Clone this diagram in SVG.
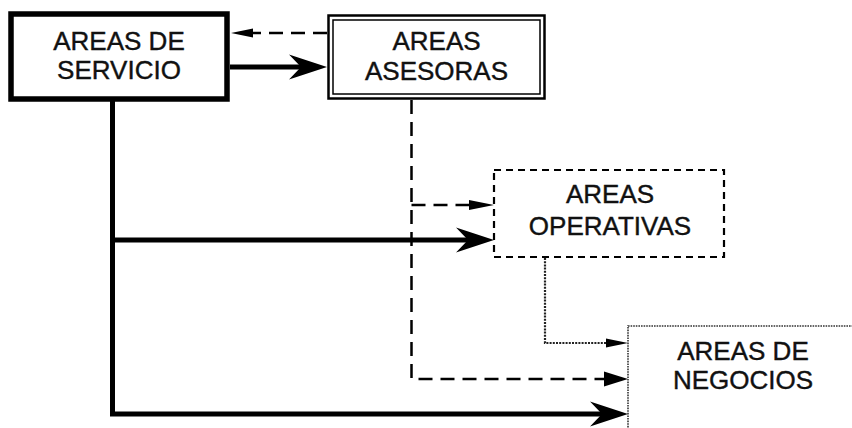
<svg xmlns="http://www.w3.org/2000/svg" width="852" height="428" viewBox="0 0 852 428">
  <style>
    .label { font-family: "Liberation Sans", Arial, sans-serif; font-size: 26px; fill: #111; stroke: #111; stroke-width: 0.4; text-anchor: middle; }
    .solid { fill: none; stroke: #000; stroke-width: 5; }
    .dash { fill: none; stroke: #000; stroke-width: 2.5; stroke-dasharray: 14 8; }
    .dot { fill: none; stroke: #222; stroke-width: 2.2; stroke-dasharray: 2 1.2; }
  </style>
  <defs>
    <marker id="stealth" markerUnits="userSpaceOnUse" markerWidth="38" markerHeight="25" refX="16" refY="12.5" orient="auto" overflow="visible">
      <path d="M0,0 L38,12.5 L0,25 L12,12.5 Z" fill="#000"/>
    </marker>
    <marker id="triLg" markerUnits="userSpaceOnUse" markerWidth="24" markerHeight="15" refX="6" refY="7.5" orient="auto" overflow="visible">
      <path d="M0,0 L24,7.5 L0,15 Z" fill="#000"/>
    </marker>
    <marker id="triMd" markerUnits="userSpaceOnUse" markerWidth="25" markerHeight="10" refX="5" refY="5" orient="auto" overflow="visible">
      <path d="M0,0 L25,5 L0,10 Z" fill="#000"/>
    </marker>
    <marker id="triSm" markerUnits="userSpaceOnUse" markerWidth="22" markerHeight="9" refX="4" refY="4.5" orient="auto" overflow="visible">
      <path d="M0,0 L22,4.5 L0,9 Z" fill="#000"/>
    </marker>
  </defs>

  <rect width="852" height="428" fill="#fff"/>

  <!-- connectors -->
  <g id="connectors">
    <!-- asesoras back to servicio -->
    <path class="dash" d="M327,33 H249" marker-end="url(#triSm)"/>
    <!-- servicio to asesoras -->
    <path class="solid" d="M230,67 H305" marker-end="url(#stealth)"/>
    <!-- servicio trunk to negocios -->
    <path class="solid" d="M112.5,101 V414 H606" marker-end="url(#stealth)"/>
    <!-- servicio to operativas -->
    <path class="solid" d="M112.5,240 H472" marker-end="url(#stealth)"/>
    <!-- asesoras trunk to negocios -->
    <path class="dash" d="M411.5,100 V379 H610" marker-end="url(#triLg)"/>
    <!-- asesoras to operativas -->
    <path class="dash" d="M411.5,205 H474" marker-end="url(#triMd)"/>
    <!-- operativas to negocios -->
    <path class="dot" d="M545,258 V343 H610" marker-end="url(#triSm)"/>
  </g>

  <g id="servicio">
    <rect x="11" y="14" width="216" height="85" fill="#fff" stroke="#000" stroke-width="5.5"/>
    <text class="label" x="119" y="50">AREAS DE</text>
    <text class="label" x="119" y="79">SERVICIO</text>
  </g>

  <g id="asesoras">
    <rect x="328.5" y="15.5" width="216" height="83" fill="#fff" stroke="#000" stroke-width="2.5"/>
    <rect x="333" y="20" width="207" height="74" fill="none" stroke="#000" stroke-width="1.5"/>
    <text class="label" x="436.5" y="50">AREAS</text>
    <text class="label" x="436.5" y="80">ASESORAS</text>
  </g>

  <g id="operativas">
    <rect x="494" y="170" width="230" height="87" fill="#fff" stroke="#000" stroke-width="2.2" stroke-dasharray="7 5"/>
    <text class="label" x="610" y="203">AREAS</text>
    <text class="label" x="610" y="235">OPERATIVAS</text>
  </g>

  <g id="negocios">
    <rect x="628" y="326" width="260" height="130" fill="#fff" stroke="#333" stroke-width="1.6" stroke-dasharray="1.6 1"/>
    <text class="label" x="743" y="360">AREAS DE</text>
    <text class="label" x="743" y="389">NEGOCIOS</text>
  </g>
</svg>
